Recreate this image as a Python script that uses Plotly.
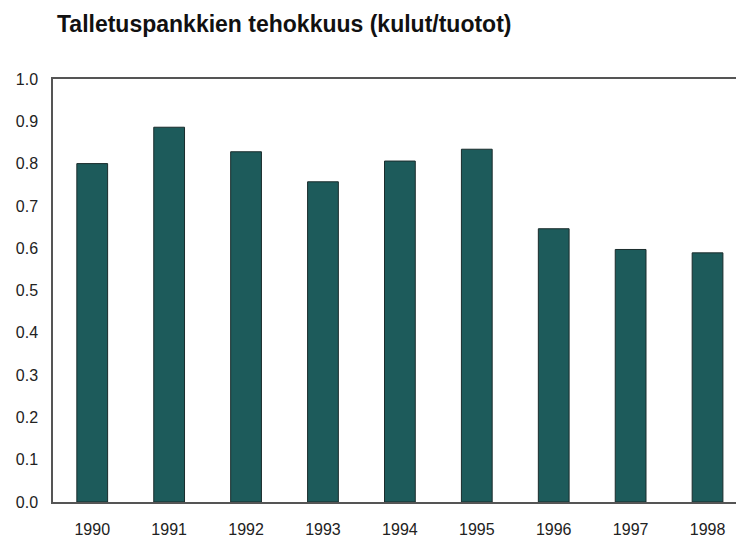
import plotly.graph_objects as go

years = ["1990", "1991", "1992", "1993", "1994", "1995", "1996", "1997", "1998"]
ratio = [0.80, 0.886, 0.828, 0.757, 0.806, 0.834, 0.646, 0.597, 0.589]
y_ticks = [0.0, 0.1, 0.2, 0.3, 0.4, 0.5, 0.6, 0.7, 0.8, 0.9, 1.0]
title_text = "Talletuspankkien tehokkuus (kulut/tuotot)"

fig = go.Figure(
    go.Bar(
        x=years,
        y=ratio,
        width=0.40,
        marker=dict(color="#1d5b5b", line=dict(color="#1a2c2c", width=1)),
    )
)

fig.update_layout(
    width=736,
    height=538,
    margin=dict(l=53, r=0, t=79, b=36),
    paper_bgcolor="white",
    plot_bgcolor="white",
    showlegend=False,
    font=dict(family="Liberation Sans, Arial, sans-serif", color="#222"),
    title=dict(
        text="<b>" + title_text + "</b>",
        x=57 / 736,
        xref="container",
        xanchor="left",
        y=1 - 24 / 538,
        yref="container",
        yanchor="middle",
        font=dict(size=23, color="#111"),
    ),
)

fig.update_xaxes(
    type="category",
    range=[-0.51, 8.37],
    showline=True,
    linecolor="#555",
    linewidth=1.5,
    mirror=True,
    ticks="",
    showgrid=False,
    tickfont=dict(size=16, color="#222"),
    ticklabelstandoff=12,
)
fig.update_yaxes(
    range=[0, 1.0],
    tickvals=y_ticks,
    ticktext=[f"{v:.1f}" for v in y_ticks],
    showline=True,
    linecolor="#555",
    linewidth=1.5,
    mirror=False,
    ticks="",
    showgrid=False,
    zeroline=False,
    tickfont=dict(size=16, color="#222"),
    ticklabelstandoff=10,
)

fig.write_html(
    "out.html",
    config={"displayModeBar": False},
    post_script="document.body.style.margin='0';document.body.style.overflow='hidden';",
)
